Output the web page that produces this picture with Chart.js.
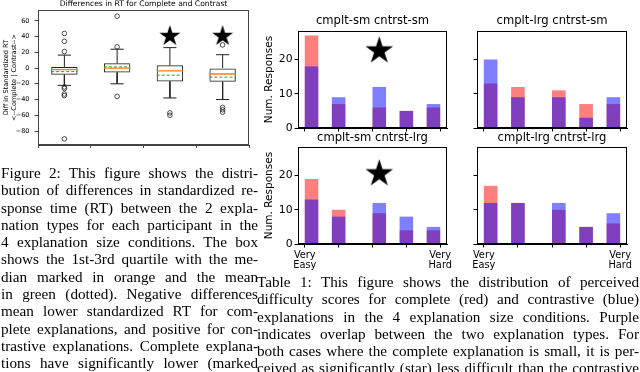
<!DOCTYPE html>
<html>
<head>
<meta charset="utf-8">
<script src="https://cdn.jsdelivr.net/npm/chart.js@4.4.1/dist/chart.umd.min.js"></script>
<style>
  html, body { margin: 0; padding: 0; background: #fff; }
  body { width: 640px; height: 372px; overflow: hidden; position: relative; }
  canvas { position: absolute; }
  .caption {
    position: absolute;
    font-family: "Liberation Serif", "Times New Roman", serif;
    font-size: 15.2px;
    line-height: 17.3px;
    color: #000;
  }
  .caption div { text-align: justify; text-align-last: justify; }
</style>
</head>
<body>
<canvas id="boxChart" width="256" height="168" style="left:0;top:0"></canvas>

<div class="caption" id="fig-caption" style="left:1px;top:164px;width:257px">
  <div>Figure 2: This figure shows the distri-</div>
  <div>bution of differences in standardized re-</div>
  <div>sponse time (RT) between the 2 expla-</div>
  <div>nation types for each participant in the</div>
  <div>4 explanation size conditions. The box</div>
  <div>shows the 1st-3rd quartile with the me-</div>
  <div>dian marked in orange and the mean</div>
  <div>in green (dotted). Negative differences</div>
  <div>mean lower standardized RT for com-</div>
  <div>plete explanations, and positive for con-</div>
  <div>trastive explanations. Complete explana-</div>
  <div>tions have significantly lower (marked</div>
</div>

<div class="caption" id="table-caption" style="left:257px;top:273px;width:382px">
  <div>Table 1: This figure shows the distribution of perceived</div>
  <div>difficulty scores for complete (red) and contrastive (blue)</div>
  <div>explanations in the 4 explanation size conditions. Purple</div>
  <div>indicates overlap between the two explanation types. For</div>
  <div>both cases where the complete explanation is small, it is per-</div>
  <div>ceived as significantly (star) less difficult than the contrastive</div>
</div>

<script>
// Box plot: differences in standardized RT (complete minus contrastive)
const boxCategories = [
  ['cmplt-sm', 'cntrst-sm'],
  ['cmplt-lrg', 'cntrst-sm'],
  ['cmplt-sm', 'cntrst-lrg'],
  ['cmplt-lrg', 'cntrst-lrg']
];
const boxQ1 = [-8.5, -5.5, -17, -17.5];
const boxQ3 = [1.5, 6, 3.5, 0];
const boxMedian = [-2, 0, -3.5, -7.5];
const boxMean = [-4.5, 1.5, -9, -11.5];
const whiskerLow = [-22, -20, -38, -40];
const whiskerHigh = [16.5, 24, 26, 17];
const boxOutliers = [
  [44, 34, 21, -24, -26, -33, -35, -90],
  [66, 27, -36],
  [-57, -60],
  [29.5, -50, -53, -56]
];
const boxStarCategories = [3, 4];
const boxStarLevel = 42;
const boxTicks = [-80, -60, -40, -20, 0, 20, 40, 60];

// Histograms: perceived difficulty (1 = very easy, 5 = very hard)
const panelTitles = ['cmplt-sm cntrst-sm', 'cmplt-lrg cntrst-sm', 'cmplt-sm cntrst-lrg', 'cmplt-lrg cntrst-lrg'];
const difficultyLevels = [1, 2, 3, 4, 5];
const difficultyTickLabels = [['Very', 'Easy'], '', '', '', ['Very', 'Hard']];
const completeCounts = [
  [27, 7, 6, 5, 6],
  [13, 12, 11, 7, 7],
  [19, 10, 9, 4, 4],
  [17, 12, 10, 5, 6]
];
const contrastCounts = [
  [18, 9, 12, 5, 7],
  [20, 9, 9, 3, 9],
  [13, 8, 12, 8, 5],
  [12, 12, 12, 5, 9]
];
// significance star per panel: [difficulty position, count level] or null
const panelStars = [[3.2, 23], null, [3.2, 21], null];

Chart.defaults.font.family = '"DejaVu Sans", sans-serif';
Chart.defaults.color = '#000';
Chart.defaults.animation = false;
Chart.defaults.plugins.legend.display = false;
Chart.defaults.plugins.tooltip.enabled = false;

// Filled five-point star, same shape as matplotlib's '*' marker.
const makeStar = (size) => {
  const c = document.createElement('canvas');
  c.width = size;
  c.height = size;
  const ctx = c.getContext('2d');
  const r = size / 2;
  ctx.beginPath();
  for (let k = 0; k < 10; k++) {
    const rad = k % 2 ? r * 0.382 : r;
    const a = -Math.PI / 2 + k * Math.PI / 5;
    ctx.lineTo(r + rad * Math.cos(a), r + 0.1 * r + rad * Math.sin(a));
  }
  ctx.closePath();
  ctx.fillStyle = '#000';
  ctx.fill();
  return c;
};

// Draw the full matplotlib-style frame round the plot area.
const framePlugin = {
  id: 'frame',
  afterDraw(chart, args, opts) {
    const { ctx, chartArea: { left, top, right, bottom } } = chart;
    ctx.save();
    ctx.strokeStyle = opts.color || '#000';
    ctx.lineWidth = 1;
    ctx.strokeRect(Math.round(left) + 0.5, Math.round(top) + 0.5,
      Math.round(right - left) - 1, Math.round(bottom - top) - 1);
    ctx.restore();
  }
};

const fixWidth = (w) => (scale) => {
  scale.width = w;
  scale.paddingTop = 0;
  scale.paddingBottom = 0;
};
const fixHeight = (h) => (scale) => {
  scale.height = h;
  scale.paddingLeft = 0;
  scale.paddingRight = 0;
};
const minusSign = (v) => String(v).replace('-', '\u2212');

// ---------- box plot ----------
const renderBoxPlot = () => {
  const positions = boxCategories.map((_, i) => i + 1);
  const boxHalf = 0.25;
  const capHalf = 0.125;
  const seg = (x1, y1, x2, y2) => [{ x: x1, y: y1 }, { x: x2, y: y2 }, { x: x2, y: null }];

  const allValues = boxOutliers.flat().concat(whiskerLow, whiskerHigh);
  const lo = Math.min(...allValues);
  const hi = Math.max(...allValues);
  const margin = (hi - lo) * 0.05;

  const whiskerSegs = positions.flatMap((p, i) => [
    ...seg(p, boxQ3[i], p, whiskerHigh[i]),
    ...seg(p, boxQ1[i], p, whiskerLow[i]),
    ...seg(p - capHalf, whiskerHigh[i], p + capHalf, whiskerHigh[i]),
    ...seg(p - capHalf, whiskerLow[i], p + capHalf, whiskerLow[i])
  ]);
  const medianSegs = positions.flatMap((p, i) => seg(p - boxHalf, boxMedian[i], p + boxHalf, boxMedian[i]));
  const meanSegs = positions.flatMap((p, i) => seg(p - boxHalf, boxMean[i], p + boxHalf, boxMean[i]));
  const outlierPts = positions.flatMap((p, i) => boxOutliers[i].map((v) => ({ x: p, y: v })));
  const starPts = boxStarCategories.map((c) => ({ x: c, y: boxStarLevel }));

  const lineDefaults = { type: 'line', pointRadius: 0, spanGaps: false, fill: false };

  new Chart(document.getElementById('boxChart'), {
    type: 'bar',
    data: {
      datasets: [
        {
          type: 'bar',
          data: positions.map((p, i) => ({ x: p, y: [boxQ1[i], boxQ3[i]] })),
          backgroundColor: 'rgba(0,0,0,0)',
          borderColor: '#222',
          borderWidth: 1,
          borderSkipped: false,
          categoryPercentage: 0.5,
          barPercentage: 1,
          order: 5
        },
        { ...lineDefaults, data: whiskerSegs, borderColor: '#222', borderWidth: 1, order: 4 },
        { ...lineDefaults, data: medianSegs, borderColor: '#ff7f0e', borderWidth: 1.3, order: 3 },
        { ...lineDefaults, data: meanSegs, borderColor: '#2ca02c', borderWidth: 1, borderDash: [3, 2], order: 2 },
        {
          type: 'scatter',
          data: outlierPts,
          pointStyle: 'circle',
          pointRadius: 2.3,
          borderColor: '#222',
          borderWidth: 0.8,
          backgroundColor: 'rgba(0,0,0,0)',
          order: 1
        },
        {
          type: 'scatter',
          data: starPts,
          pointStyle: makeStar(22),
          pointRadius: 11,
          order: 0
        }
      ]
    },
    options: {
      responsive: false,
      layout: { autoPadding: false, padding: { left: 0, right: 7, top: 0, bottom: 0 } },
      plugins: {
        title: {
          display: true,
          text: 'Differences in RT for Complete and Contrast',
          fullSize: false,
          font: { size: 7.6, weight: 'normal', lineHeight: 1.15 },
          padding: { top: 0, bottom: 1.3 }
        },
        frame: { color: '#444' }
      },
      scales: {
        x: {
          type: 'linear',
          min: 0.5,
          max: 4.5,
          offset: false,
          afterFit: fixHeight(23),
          grid: { display: true, drawOnChartArea: false, offset: false, tickLength: 3, color: '#444' },
          border: { color: '#444' },
          ticks: {
            stepSize: 1,
            includeBounds: false,
            autoSkip: false,
            maxRotation: 0,
            padding: 2,
            font: { size: 6, lineHeight: 1.28 },
            callback: (value) => boxCategories[value - 1] || ''
          }
        },
        y: {
          type: 'linear',
          min: lo - margin,
          max: hi + margin,
          afterFit: fixWidth(38),
          grid: { display: true, drawOnChartArea: false, tickLength: 3.5, color: '#444' },
          border: { color: '#444' },
          afterBuildTicks: (scale) => { scale.ticks = boxTicks.map((v) => ({ value: v })); },
          ticks: {
            padding: 5,
            font: { size: 6.5 },
            callback: (value) => minusSign(value)
          },
          title: {
            display: true,
            text: ['Diff in Standardized RT', '<--Complete | Contrast-->'],
            font: { size: 6.6, lineHeight: 1.2 },
            padding: { top: 2, bottom: 0 }
          }
        }
      }
    },
    plugins: [framePlugin]
  });
};

// ---------- difficulty histograms ----------
const histBins = 10;
const histMin = 1;
const histMax = 5;
const binWidth = (histMax - histMin) / histBins;
const binCenter = (v) => {
  const b = Math.min(histBins - 1, Math.floor((v - histMin) / binWidth + 1e-9));
  return histMin + (b + 0.5) * binWidth;
};
const countMax = Math.max(...completeCounts.flat(), ...contrastCounts.flat()) * 1.05;
const starImage = makeStar(29);

const renderPanel = (idx) => {
  const col = idx % 2;
  const row = Math.floor(idx / 2);
  const axisW = col === 0 ? 43 : 5;
  const plotW = col === 0 ? 149 : 150;
  const padRight = 12;
  const plotH = 97;
  const axisH = row === 0 ? 6 : 30;
  const titleH = row === 0 ? 17 : 16;
  const plotTop = row === 0 ? 31 : 147;
  const titleFont = 11.6;

  const canvas = document.createElement('canvas');
  canvas.id = `difficulty-panel-${idx + 1}`;
  canvas.width = axisW + plotW + padRight;
  canvas.height = titleH + plotH + axisH;
  canvas.style.left = (col === 0 ? 255 : 472) + 'px';
  canvas.style.top = (plotTop - titleH) + 'px';
  document.body.appendChild(canvas);

  const toPoints = (counts) => difficultyLevels.map((d, i) => ({ x: binCenter(d), y: counts[i] }));
  const datasets = [
    {
      type: 'bar',
      label: 'complete',
      data: toPoints(completeCounts[idx]),
      backgroundColor: 'rgba(255, 0, 0, 0.5)',
      borderWidth: 0,
      categoryPercentage: 0.5,
      barPercentage: 1,
      order: 2
    },
    {
      type: 'bar',
      label: 'contrastive',
      data: toPoints(contrastCounts[idx]),
      backgroundColor: 'rgba(0, 0, 255, 0.5)',
      borderWidth: 0,
      categoryPercentage: 0.5,
      barPercentage: 1,
      order: 1
    }
  ];
  if (panelStars[idx]) {
    datasets.push({
      type: 'scatter',
      data: [{ x: panelStars[idx][0], y: panelStars[idx][1] }],
      pointStyle: starImage,
      pointRadius: 14,
      order: 0
    });
  }

  new Chart(canvas, {
    type: 'bar',
    data: { datasets },
    options: {
      responsive: false,
      layout: { autoPadding: false, padding: { left: 0, right: padRight, top: 0, bottom: 0 } },
      plugins: {
        title: {
          display: true,
          text: panelTitles[idx],
          fullSize: false,
          font: { size: titleFont, weight: 'normal', lineHeight: 1.2 },
          padding: { top: 0, bottom: titleH - titleFont * 1.2 }
        },
        frame: { color: '#000' }
      },
      scales: {
        x: {
          type: 'linear',
          min: 0.8,
          max: 5.2,
          offset: false,
          stacked: true,
          afterFit: fixHeight(axisH),
          grid: { display: true, drawOnChartArea: false, offset: false, tickLength: 3.5, color: '#000' },
          border: { color: '#000' },
          ticks: {
            display: row === 1,
            stepSize: 1,
            includeBounds: false,
            autoSkip: false,
            maxRotation: 0,
            padding: 2.5,
            font: { size: 9.8, lineHeight: 1.08 },
            callback: (value) => difficultyTickLabels[value - 1] ?? ''
          }
        },
        y: {
          type: 'linear',
          min: 0,
          max: countMax,
          stacked: false,
          afterFit: fixWidth(axisW),
          grid: { display: true, drawOnChartArea: false, tickLength: 3.5, color: '#000' },
          border: { color: '#000' },
          ticks: {
            display: col === 0,
            stepSize: 10,
            includeBounds: false,
            padding: 2,
            font: { size: 10.8 }
          },
          title: {
            display: col === 0,
            text: 'Num. Responses',
            font: { size: 10.5, lineHeight: 1.2 },
            padding: { top: 7.5, bottom: 0 }
          }
        }
      }
    },
    plugins: [framePlugin]
  });
};

renderBoxPlot();
panelTitles.forEach((_, idx) => renderPanel(idx));
</script>
</body>
</html>
